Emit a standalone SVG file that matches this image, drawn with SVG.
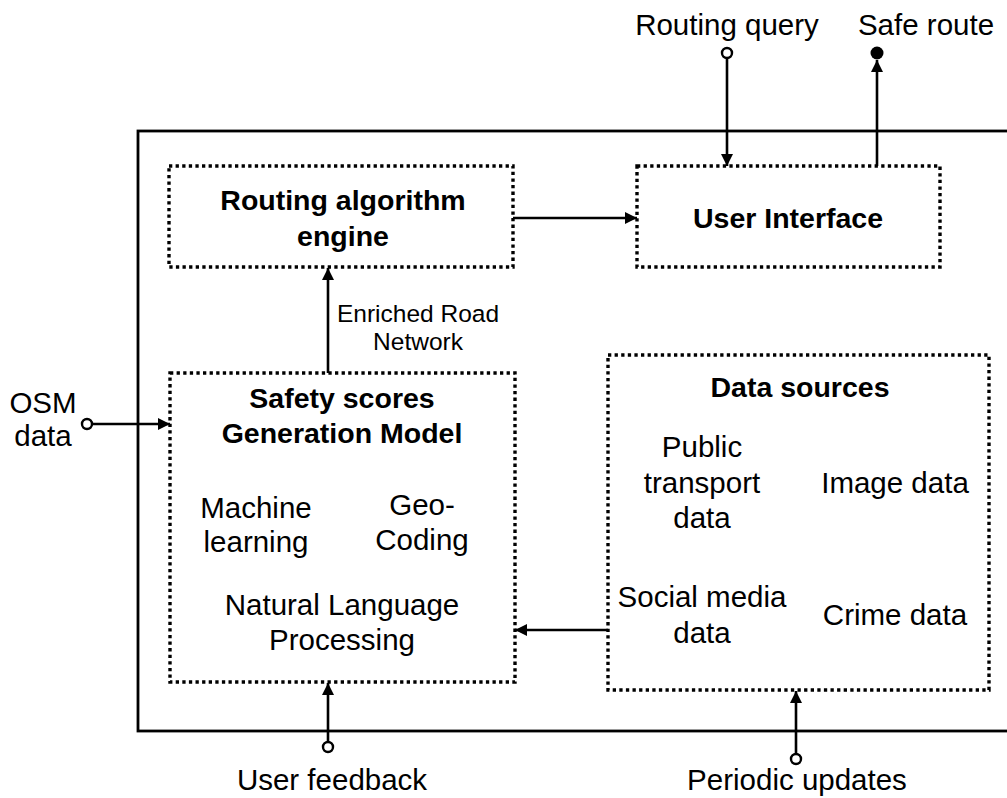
<svg xmlns="http://www.w3.org/2000/svg" width="1007" height="798" viewBox="0 0 1007 798">
  <style>
    text { font-family: "Liberation Sans", Arial, sans-serif; fill: #000; text-anchor: middle; }
    .t { font-size: 29.5px; }
    .h { font-size: 28.5px; font-weight: bold; }
    .s { font-size: 24.5px; }
    .box { fill: none; stroke: #000; stroke-width: 3.4; stroke-dasharray: 3.3 3.3; }
    .frame { fill: none; stroke: #000; stroke-width: 2.8; }
    .edge { fill: none; stroke: #000; stroke-width: 2.6; }
    .port { fill: #fff; stroke: #000; stroke-width: 2.4; }
    .dot { fill: #000; stroke: none; }
  </style>
  <defs>
    <marker id="arrow" viewBox="0 0 12 12" refX="12" refY="6" markerWidth="12" markerHeight="12" orient="auto" markerUnits="userSpaceOnUse">
      <path d="M0,0 L12,6 L0,12 z" fill="#000"/>
    </marker>
  </defs>

  <!-- system boundary -->
  <rect id="system" class="frame" x="138" y="131" width="880" height="600"/>

  <!-- connectors -->
  <g id="connectors">
    <!-- routing query in -->
    <line class="edge" x1="727" y1="58" x2="727" y2="166" marker-end="url(#arrow)"/>
    <!-- safe route out -->
    <line class="edge" x1="877" y1="166" x2="877" y2="60" marker-end="url(#arrow)"/>
    <!-- engine to UI -->
    <line class="edge" x1="513" y1="218" x2="637" y2="218" marker-end="url(#arrow)"/>
    <!-- enriched road network -->
    <line class="edge" x1="328" y1="373" x2="328" y2="268" marker-end="url(#arrow)"/>
    <!-- OSM data in -->
    <line class="edge" x1="92" y1="424" x2="170" y2="424" marker-end="url(#arrow)"/>
    <!-- data sources to model -->
    <line class="edge" x1="608" y1="630" x2="515" y2="630" marker-end="url(#arrow)"/>
    <!-- user feedback in -->
    <line class="edge" x1="328" y1="742" x2="328" y2="683" marker-end="url(#arrow)"/>
    <!-- periodic updates in -->
    <line class="edge" x1="796" y1="754" x2="796" y2="691" marker-end="url(#arrow)"/>

    <circle class="port" cx="727" cy="53" r="5"/>
    <circle class="dot" cx="877" cy="53" r="6.5"/>
    <circle class="port" cx="87" cy="424" r="5"/>
    <circle class="port" cx="328" cy="747" r="5"/>
    <circle class="port" cx="796" cy="759" r="5"/>

    <text class="s" x="418" y="322">Enriched Road</text>
    <text class="s" x="418" y="350">Network</text>
  </g>

  <!-- external labels -->
  <g id="labels">
    <text class="t" x="727" y="35">Routing query</text>
    <text class="t" x="926" y="35">Safe route</text>
    <text class="t" x="43" y="413">OSM</text>
    <text class="t" x="43" y="446">data</text>
    <text class="t" x="332" y="790">User feedback</text>
    <text class="t" x="797" y="790">Periodic updates</text>
  </g>

  <g id="routing-engine">
    <rect class="box" x="169" y="166" width="344" height="101"/>
    <text class="h" x="343" y="210">Routing algorithm</text>
    <text class="h" x="343" y="246">engine</text>
  </g>

  <g id="user-interface">
    <rect class="box" x="637" y="166" width="303" height="101"/>
    <text class="h" x="788" y="228">User Interface</text>
  </g>

  <g id="safety-model">
    <rect class="box" x="170" y="373" width="345" height="309"/>
    <text class="h" x="342" y="408">Safety scores</text>
    <text class="h" x="342" y="443">Generation Model</text>
    <text class="t" x="256" y="518">Machine</text>
    <text class="t" x="256" y="552">learning</text>
    <text class="t" x="422" y="515">Geo-</text>
    <text class="t" x="422" y="550">Coding</text>
    <text class="t" x="342" y="615">Natural Language</text>
    <text class="t" x="342" y="650">Processing</text>
  </g>

  <g id="data-sources">
    <rect class="box" x="608" y="355" width="381" height="335"/>
    <text class="h" x="800" y="397">Data sources</text>
    <text class="t" x="702" y="457">Public</text>
    <text class="t" x="702" y="493">transport</text>
    <text class="t" x="702" y="528">data</text>
    <text class="t" x="895" y="493">Image data</text>
    <text class="t" x="702" y="607">Social media</text>
    <text class="t" x="702" y="643">data</text>
    <text class="t" x="895" y="625">Crime data</text>
  </g>
</svg>
